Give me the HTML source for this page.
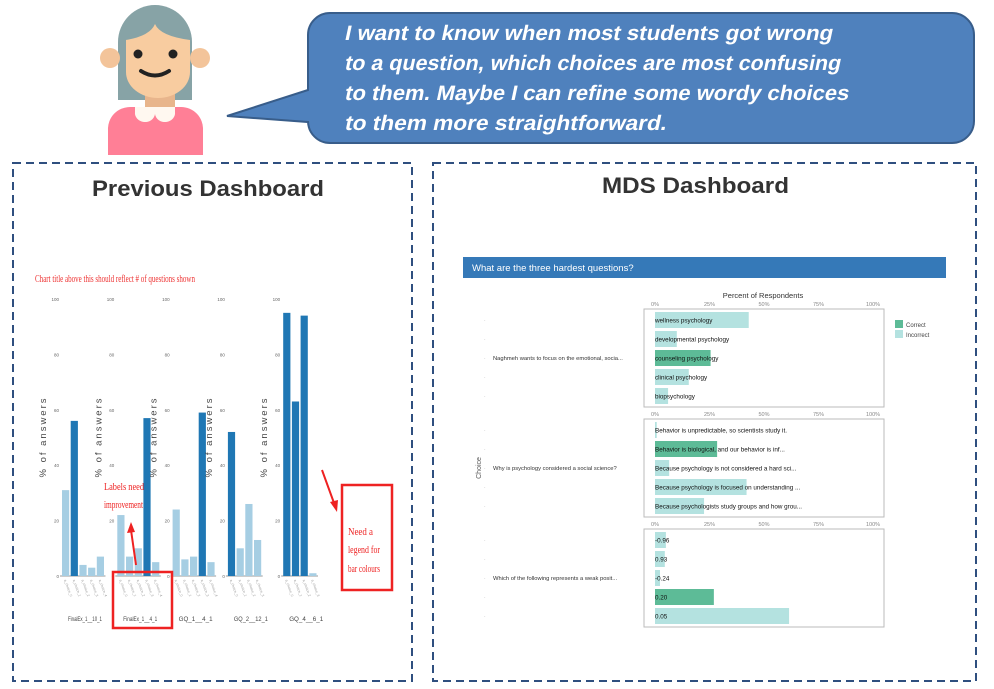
<!DOCTYPE html>
<html><head><meta charset="utf-8"><style>
body{margin:0;width:994px;height:689px;background:#fff;overflow:hidden;font-family:"Liberation Sans",sans-serif}
svg{position:absolute;left:0;top:0}
</style></head><body>
<svg id="s" width="994" height="689" viewBox="0 0 994 689">
 <g>
  <path d="M118,100 V42 A37,37 0 0 1 192,42 V100 Z" fill="#87a3a6"/>
  <circle cx="110" cy="58" r="10" fill="#f3c49a"/>
  <circle cx="200" cy="58" r="10" fill="#f3c49a"/>
  <rect x="145" y="90" width="30" height="20" fill="#e8b58c"/>
  <path d="M126,40 Q150,36 155,24 Q160,36 190,40 V72 A32,26 0 0 1 126,72 Z" fill="#f8cca0"/>
  <circle cx="138" cy="54" r="4.5" fill="#222"/>
  <circle cx="173" cy="54" r="4.5" fill="#222"/>
  <path d="M141,71 Q155,80 169,71" stroke="#222" stroke-width="4" fill="none" stroke-linecap="round"/>
  <path d="M108,155 V130 A22,22 0 0 1 130,107 H181 A22,22 0 0 1 203,130 V155 Z" fill="#ff7f96"/>
  <path d="M135,107 H175 V112 A10,9 0 0 1 155,114 A10,9 0 0 1 135,112 Z" fill="#fff8f0"/>
 </g>
 <path d="M330,13 H952 A22,22 0 0 1 974,35 V121 A22,22 0 0 1 952,143 H330 A22,22 0 0 1 308,121 V122 L227,116 L308,90 V35 A22,22 0 0 1 330,13 Z" fill="#4f81bd" stroke="#385d8a" stroke-width="2"/>
 <g style="font-family:'Liberation Sans',sans-serif;font-weight:bold;font-size:21px" fill="#fff">
  <text transform="skewX(-12)" x="352.5" y="40" textLength="488" lengthAdjust="spacingAndGlyphs">I want to know when most students got wrong</text>
  <text transform="skewX(-12)" x="358.9" y="70" textLength="496" lengthAdjust="spacingAndGlyphs">to a question, which choices are most confusing</text>
  <text transform="skewX(-12)" x="365.3" y="100" textLength="504" lengthAdjust="spacingAndGlyphs">to them. Maybe I can refine some wordy choices</text>
  <text transform="skewX(-12)" x="371.6" y="130" textLength="322" lengthAdjust="spacingAndGlyphs">to them more straightforward.</text>
 </g>
 <rect x="13" y="163" width="399" height="518" fill="none" stroke="#2f4f7f" stroke-width="2" stroke-dasharray="8,5"/>
 <rect x="433" y="163" width="543" height="518" fill="none" stroke="#2f4f7f" stroke-width="2" stroke-dasharray="8,5"/>
 <text x="92" y="196" font-weight="bold" font-size="22" fill="#333" textLength="232" lengthAdjust="spacingAndGlyphs">Previous Dashboard</text>
 <text x="602" y="193" font-weight="bold" font-size="22" fill="#333" textLength="187" lengthAdjust="spacingAndGlyphs">MDS Dashboard</text>
 <text x="35" y="282" font-family="Liberation Serif,serif" font-size="11" fill="#e33" textLength="160" lengthAdjust="spacingAndGlyphs">Chart title above this should reflect # of questions shown</text>
 <g id="old"></g>
 <g id="mds"></g>
 <g font-family="Liberation Serif,serif" fill="#e22">
  <text x="104" y="490" font-size="11" textLength="40" lengthAdjust="spacingAndGlyphs">Labels need</text>
  <text x="104" y="508" font-size="11" textLength="39" lengthAdjust="spacingAndGlyphs">improvement</text>
  <line x1="136" y1="565" x2="131" y2="530" stroke="#e22" stroke-width="2"/>
  <path d="M131,522 L127,533 L135,532 Z"/>
  <rect x="113" y="572" width="59" height="56" fill="none" stroke="#e22" stroke-width="2.5"/>
  <line x1="322" y1="470" x2="334" y2="503" stroke="#e22" stroke-width="2"/>
  <path d="M337,512 L330,502 L338,500 Z"/>
  <rect x="342" y="485" width="50" height="105" fill="none" stroke="#e22" stroke-width="2.5"/>
  <text x="348" y="535" font-size="11" textLength="25" lengthAdjust="spacingAndGlyphs">Need a</text>
  <text x="348" y="553" font-size="11" textLength="32" lengthAdjust="spacingAndGlyphs">legend for</text>
  <text x="348" y="572" font-size="11" textLength="32" lengthAdjust="spacingAndGlyphs">bar colours</text>
 </g>
</svg>
<script>
const NS="http://www.w3.org/2000/svg";
function mk(p,t,a,txt){const e=document.createElementNS(NS,t);for(const k in a)e.setAttribute(k,a[k]);if(txt!=null)e.textContent=txt;p.appendChild(e);return e;}
// old chart data
const oldQuestions=["FinalEx_1__10_1","FinalEx_1__4_1","GQ_1__4_1","GQ_2__12_1","GQ_4__6_1"];
const oldValues=[[31,56,4,3,7],[22,7,10,57,5],[24,6,7,59,5],[52,10,26,13],[95,63,94,1]];
const oldCorrect=[[0,1,0,0,0],[0,0,0,1,0],[0,0,0,1,0],[1,0,0,0],[1,1,1,0]];
const oldTicks=[0,20,40,60,80,100];
const og=document.getElementById('old');
const y0=576,ppu=2.77;
oldQuestions.forEach((q,i)=>{
  const px=59+i*55.3;
  const g=mk(og,'g',{});
  
  
  oldTicks.forEach(t=>{mk(g,'text',{x:px,y:y0-t*ppu+2,'font-size':4.5,fill:'#666','text-anchor':'end'},t);});
  const yl=mk(g,'text',{transform:`translate(${px-13},437) rotate(-90)`,'text-anchor':'middle','font-size':9.5,fill:'#444','letter-spacing':'2'},'% of answers');
  
  
  mk(g,'line',{x1:px+1,x2:px+1+oldValues[i].length*8.7+2,y1:y0,y2:y0,stroke:'#999','stroke-width':1});
  oldValues[i].forEach((v,j)=>{
    const r=mk(g,'rect',{x:px+3+j*8.7,y:y0-v*ppu,width:7.2,height:v*ppu,fill:oldCorrect[i][j]?'#1f77b4':'#a6cee3'});
    
    
    mk(g,'text',{transform:`translate(${px+5+j*8.7},580) rotate(70)`,'font-size':3.5,fill:'#999'},'a_choice_'+j);
  });
  const xl=mk(g,'text',{x:px+26,y:621,'text-anchor':'middle','font-size':6.5,fill:'#444','textLength':34,'lengthAdjust':'spacingAndGlyphs'},q);
  
  
});
// MDS chart data
const mdsQuestions=["Naghmeh wants to focus on the emotional, socia...","Why is psychology considered a social science?","Which of the following represents a weak posit..."];
const mdsChoices=[["wellness psychology","developmental psychology","counseling psychology","clinical psychology","biopsychology"],
["Behavior is unpredictable, so scientists study it.","Behavior is biological, and our behavior is inf...","Because psychology is not considered a hard sci...","Because psychology is focused on understanding ...","Because psychologists study groups and how grou..."],
["-0.96","0.93","-0.24","0.20","0.05"]];
const mdsValues=[[43,10,25.5,15.5,6],[0.8,28.5,6.5,42,22.5],[5,4.5,2.3,27,61.5]];
const mdsCorrect=[[0,0,1,0,0],[0,1,0,0,0],[0,0,0,1,0]];
const mdsTicks=[0,25,50,75,100];
const mg=document.getElementById('mds');
const hb=mk(mg,'rect',{x:463,y:257,width:483,height:21,fill:'#3579b8'});


mk(mg,'text',{x:472,y:271,'font-size':9.5,fill:'#fff'},'What are the three hardest questions?');
mk(mg,'text',{x:763,y:298,'font-size':7.5,fill:'#333','text-anchor':'middle'},'Percent of Respondents');
const ch=mk(mg,'text',{transform:'translate(481,468) rotate(-90)','font-size':7,fill:'#555','text-anchor':'middle'},'Choice');


const xs=v=>655+v*2.18;
mdsQuestions.forEach((q,i)=>{
  const top=309+i*110;
  const g=mk(mg,'g',{});
  
  
  mk(g,'rect',{x:644,y:top,width:240,height:98,fill:'#fff',stroke:'#bbb','stroke-width':1});
  mdsTicks.forEach(t=>{mk(g,'text',{x:xs(t),y:top-3,'font-size':5.5,fill:'#888','text-anchor':'middle'},t+'%');});
  mdsValues[i].forEach((v,j)=>{
    const cy=top+11+j*19;
    const r=mk(g,'rect',{x:xs(0),y:cy-8,width:v*2.18,height:16,fill:mdsCorrect[i][j]?'#5dbb97':'#b4e2e0'});
    
    
    mk(g,'text',{x:xs(0),y:cy+2.5,'font-size':6.3,fill:'#111'},mdsChoices[i][j]);
    mk(g,'text',{x:484,y:cy+2,'font-size':5,fill:'#aaa'},'·');
  });
  const ql=mk(g,'text',{x:493,y:top+51,'font-size':5.8,fill:'#333'},q);
  
  
});
const lg=mk(mg,'g',{});


mk(lg,'rect',{x:895,y:320,width:8,height:8,fill:'#5dbb97'});
mk(lg,'rect',{x:895,y:330,width:8,height:8,fill:'#b4e2e0'});
mk(lg,'text',{x:906,y:327,'font-size':6,fill:'#444'},'Correct');
mk(lg,'text',{x:906,y:337,'font-size':6,fill:'#444'},'Incorrect');
</script>
</body></html>
